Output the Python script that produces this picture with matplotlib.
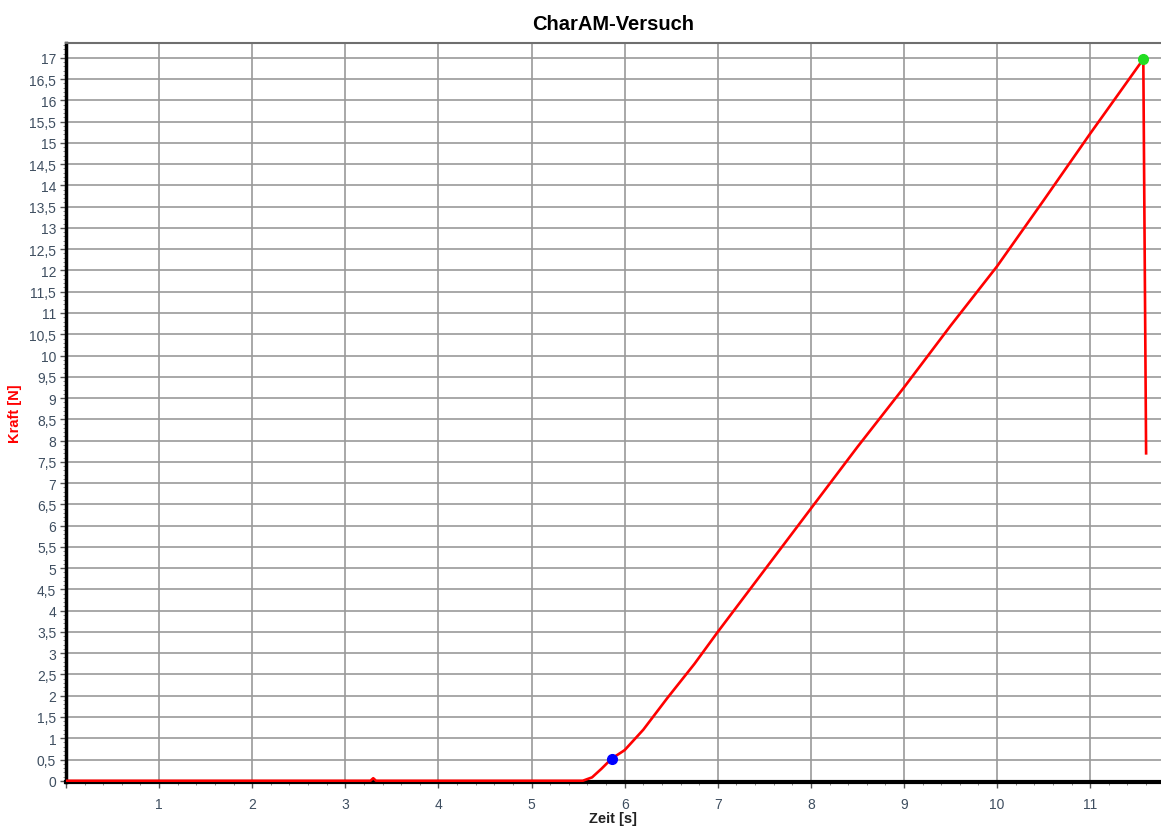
import numpy as np
import matplotlib.pyplot as plt
from matplotlib.ticker import MultipleLocator, FuncFormatter

# Zeit [s] / Kraft [N]
zeit = [0, 3.27, 3.30, 3.33, 5.55, 5.65, 5.75, 5.86, 6.0, 6.2, 6.46, 6.75, 7.0,
        7.5, 8.0, 8.5, 9.0, 9.5, 10.0, 10.5, 11.0, 11.3, 11.57, 11.6]
kraft = [0, 0, 0.06, 0, 0, 0.08, 0.28, 0.52, 0.72, 1.2, 1.95, 2.75, 3.5,
         4.95, 6.4, 7.85, 9.25, 10.7, 12.1, 13.65, 15.22, 16.14, 16.97, 7.7]
start_pt = (5.86, 0.52)
max_pt = (11.57, 16.97)

plt.rcParams['font.family'] = ['Liberation Sans', 'DejaVu Sans']

fig = plt.figure(figsize=(11.61, 8.28), dpi=100)
ax = fig.add_axes([0.0568, 0.0543, 0.9432, 0.8926])

ax.plot(zeit, kraft, color='red', lw=1.9, zorder=3, solid_joinstyle='round')
ax.plot(*start_pt, 'o', color='blue', ms=7, zorder=4)
ax.plot(*max_pt, 'o', color='#22dd22', ms=7, zorder=4)

ax.set_xlim(0, 11.76)
ax.set_ylim(-0.03, 17.35)

ax.xaxis.set_major_locator(MultipleLocator(1))
ax.xaxis.set_minor_locator(MultipleLocator(0.2))
ax.yaxis.set_major_locator(MultipleLocator(0.5))
ax.yaxis.set_minor_locator(MultipleLocator(0.1))

def fmt(v, pos):
    return ('%g' % round(v, 2)).replace('.', ',')

ax.yaxis.set_major_formatter(FuncFormatter(fmt))
ax.xaxis.set_major_formatter(FuncFormatter(lambda v, p: '' if v == 0 else fmt(v, p)))

lab_col = '#3e4e60'
ax.tick_params(axis='both', which='major', labelsize=10, colors='#555555', labelcolor=lab_col, length=4, width=1)
ax.tick_params(axis='both', which='minor', colors='#8a8a8a', length=2.5, width=0.7)
ax.tick_params(axis='x', pad=7)
ax.tick_params(axis='y', pad=3)

ax.grid(True, which='major', color='#9a9a9a', lw=1.2, zorder=1)
ax.set_axisbelow(True)

ax.spines['left'].set_linewidth(2.5)
ax.spines['left'].set_color('black')
ax.spines['bottom'].set_linewidth(3)
ax.spines['bottom'].set_color('black')
ax.spines['top'].set_color('#6e6e6e')
ax.spines['top'].set_linewidth(1.5)
ax.spines['right'].set_visible(False)

ax.set_title('CharAM-Versuch', fontsize=14.5, fontweight='bold', pad=10)
ax.set_xlabel('Zeit [s]', fontsize=10.5, fontweight='bold', color='#222222', labelpad=0)
ax.set_ylabel('Kraft [N]', fontsize=10.5, fontweight='bold', color='red', labelpad=5)

fig.savefig('out.png', dpi=100)
